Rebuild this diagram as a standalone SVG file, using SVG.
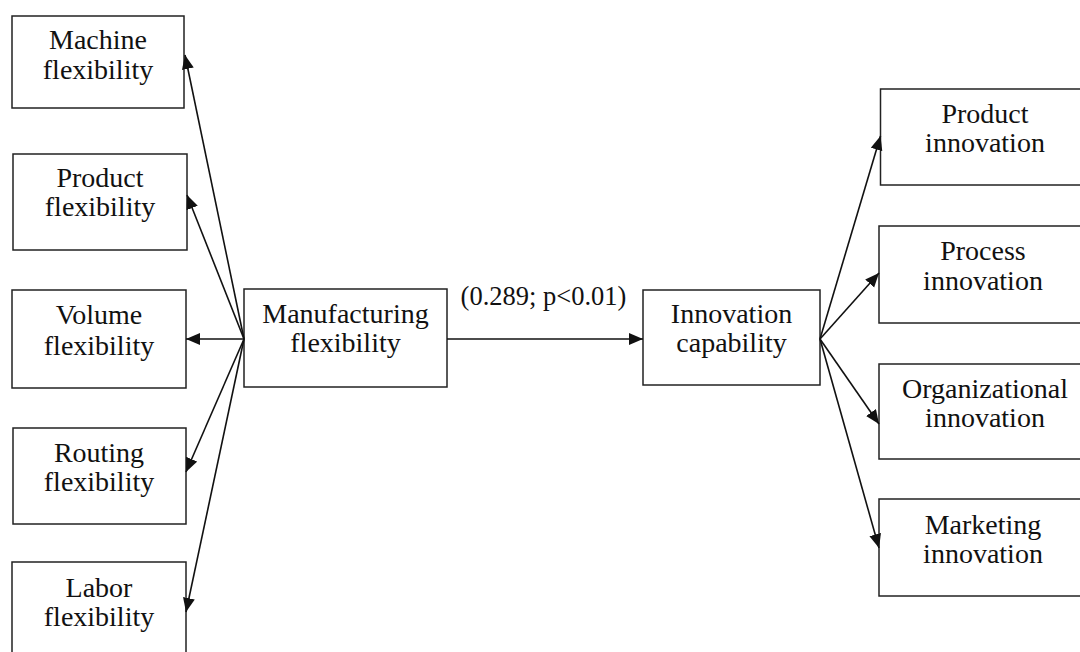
<svg xmlns="http://www.w3.org/2000/svg" width="1080" height="652" viewBox="0 0 1080 652">
<style>
.box{fill:#fff;stroke:#222;stroke-width:1.5}
.t{font-family:"Liberation Serif","Times New Roman",serif;font-size:28px;fill:#111;text-anchor:middle}
.lbl{font-family:"Liberation Serif","Times New Roman",serif;font-size:26.5px;fill:#111;text-anchor:middle}
.c{stroke:#111;stroke-width:1.6;fill:none;marker-end:url(#ah)}
</style>
<defs>
<marker id="ah" markerUnits="userSpaceOnUse" markerWidth="16" markerHeight="14" refX="14" refY="6" orient="auto">
<path d="M0,0 L14,6 L0,12 z" fill="#111"/>
</marker>
</defs>
<rect width="1080" height="652" fill="#fff"/>
<g id="machine"><rect class="box" x="12" y="16" width="172" height="92"/><text class="t" x="98" y="49">Machine</text><text class="t" x="98" y="79">flexibility</text></g>
<g id="product-flex"><rect class="box" x="13" y="154" width="174" height="96"/><text class="t" x="100" y="187">Product</text><text class="t" x="100" y="216">flexibility</text></g>
<g id="volume"><rect class="box" x="12" y="290" width="174" height="98"/><text class="t" x="99" y="324">Volume</text><text class="t" x="99" y="355">flexibility</text></g>
<g id="routing"><rect class="box" x="13" y="428" width="173" height="96"/><text class="t" x="99" y="462">Routing</text><text class="t" x="99" y="491">flexibility</text></g>
<g id="labor"><rect class="box" x="12" y="562" width="174" height="100"/><text class="t" x="99" y="597">Labor</text><text class="t" x="99" y="626">flexibility</text></g>
<g id="manufacturing"><rect class="box" x="244" y="289" width="203" height="98"/><text class="t" x="345.5" y="323">Manufacturing</text><text class="t" x="345.5" y="352">flexibility</text></g>
<g id="innovation"><rect class="box" x="643" y="290" width="177" height="95"/><text class="t" x="731.5" y="323">Innovation</text><text class="t" x="731.5" y="352">capability</text></g>
<g id="product-innov"><rect class="box" x="880.5" y="89" width="210" height="96"/><text class="t" x="985" y="123">Product</text><text class="t" x="985" y="152">innovation</text></g>
<g id="process-innov"><rect class="box" x="879" y="226" width="211" height="97"/><text class="t" x="983" y="260">Process</text><text class="t" x="983" y="290">innovation</text></g>
<g id="org-innov"><rect class="box" x="879" y="364" width="211" height="95"/><text class="t" x="985" y="398">Organizational</text><text class="t" x="985" y="427">innovation</text></g>
<g id="marketing-innov"><rect class="box" x="879" y="499" width="211" height="97"/><text class="t" x="983" y="534">Marketing</text><text class="t" x="983" y="563">innovation</text></g>
<g id="connectors">
<line class="c" x1="244" y1="339" x2="185" y2="55"/>
<line class="c" x1="244" y1="339" x2="187" y2="195"/>
<line class="c" x1="244" y1="339" x2="186" y2="339"/>
<line class="c" x1="244" y1="339" x2="186" y2="472"/>
<line class="c" x1="244" y1="339" x2="186" y2="612"/>
<line class="c" x1="447" y1="339" x2="643" y2="339"/>
<line class="c" x1="820" y1="339" x2="880.5" y2="136"/>
<line class="c" x1="820" y1="339" x2="879" y2="273"/>
<line class="c" x1="820" y1="339" x2="879" y2="424"/>
<line class="c" x1="820" y1="339" x2="879" y2="548"/>
<text class="lbl" x="543.5" y="305">(0.289; p&lt;0.01)</text>
</g>
</svg>
